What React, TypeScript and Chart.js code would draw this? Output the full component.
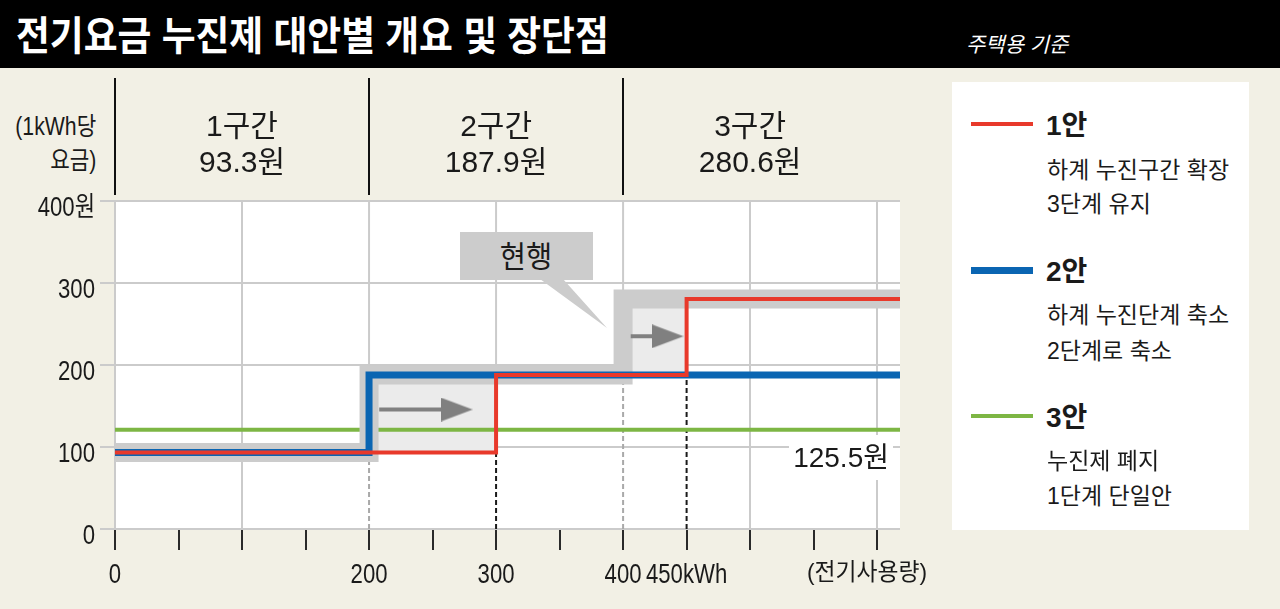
import React, { useEffect, useRef } from 'react';
import { Chart, registerables } from 'chart.js';

Chart.register(...registerables);

// ---------- data ----------
const stepRates = [93.3, 187.9, 280.6]; // 원 per kWh, 1~3구간
const currentBreaks = [0, 200, 400]; // 현행 구간 시작 (kWh)
const planOneBreaks = [0, 300, 450]; // 1안 구간 시작
const planTwoBreaks = [0, 200]; // 2안 구간 시작
const planTwoRates = [93.3, 187.9];
const planThreeRate = [121]; // 3안 단일 요금 (drawn level)
const planThreeLabel = '125.5원';
const usageMax = 618;
const rateMax = 400;
const zoneEdges = [0, 200, 400, 600];
const zoneLabels = ['1구간', '2구간', '3구간'];
const zoneRateLabels = ['93.3원', '187.9원', '280.6원'];
const xLabelValues = [0, 200, 300, 400, 450];
const xLabelTexts = ['0', '200', '300', '400', '450kWh'];
const yTickValues = [0, 100, 200, 300, 400];
const yTickLabels = ['0', '100', '200', '300', '400원'];
const stubValues = [200, 300, 400];
const arrowStarts = [208, 406];
const arrowHeads = [269, 435];
const arrowLevels = [145.7, 235];
const legendTitles = ['1안', '2안', '3안'];
const legendDescs = [
  ['하계 누진구간 확장', '3단계 유지'],
  ['하계 누진단계 축소', '2단계로 축소'],
  ['누진제 폐지', '1단계 단일안'],
];

// ---------- style ----------
const BG = '#f2f0e5';
const RED = '#e8392b';
const BLUE = '#0a65b2';
const GREEN = '#7db644';
const BAND = '#cccccc';
const FILL = '#ebebeb';
const ARROW = '#808080';
const GRID = '#cbcbcb';
const INK = '#1a1a1a';
const FONT = '"Liberation Sans", "Noto Sans CJK KR", sans-serif';

function stepPath(breaks: number[], rates: number[], end: number) {
  const pts: { x: number; y: number }[] = [];
  breaks.forEach((b, i) => {
    if (i > 0) pts.push({ x: b, y: rates[i - 1] });
    pts.push({ x: b, y: rates[i] });
  });
  pts.push({ x: end, y: rates[breaks.length - 1] });
  return pts;
}

function rateAt(breaks: number[], rates: number[], x: number) {
  let r = rates[0];
  breaks.forEach((b, i) => {
    if (x >= b) r = rates[i];
  });
  return r;
}

function Label(p: any) {
  const { x, y, size, text, align = 'left', bold = false, italic = false, color = INK, sx = 1 } = p;
  const lh = Math.round(size * 1.2);
  const style: any = {
    position: 'absolute',
    top: y - lh / 2,
    fontSize: size,
    lineHeight: lh + 'px',
    fontFamily: FONT,
    fontWeight: bold ? 700 : 400,
    fontStyle: italic ? 'italic' : 'normal',
    color,
    whiteSpace: 'nowrap',
  };
  if (align === 'left') {
    style.left = x;
    style.transform = `scaleX(${sx})`;
    style.transformOrigin = 'left center';
  } else if (align === 'right') {
    style.right = 1280 - x;
    style.transform = `scaleX(${sx})`;
    style.transformOrigin = 'right center';
  } else {
    style.left = x;
    style.transform = `translateX(-50%) scaleX(${sx})`;
    style.transformOrigin = 'center center';
  }
  return <div style={style}>{text}</div>;
}

function condensedText(ctx: any, text: string, x: number, y: number, align: string, sx: number) {
  ctx.save();
  ctx.translate(x, y);
  ctx.scale(sx, 1);
  ctx.textAlign = align;
  ctx.textBaseline = 'alphabetic';
  ctx.fillText(text, 0, 0);
  ctx.restore();
}

export default function App() {
  const ref = useRef<HTMLCanvasElement>(null);

  useEffect(() => {
    document.body.style.margin = '0';
    const canvas = ref.current!;

    const head = document.createElement('canvas');
    head.width = 32;
    head.height = 24;
    const hctx = head.getContext('2d')!;
    hctx.fillStyle = ARROW;
    hctx.beginPath();
    hctx.moveTo(0, 0);
    hctx.lineTo(32, 12);
    hctx.lineTo(0, 24);
    hctx.closePath();
    hctx.fill();

    const layers: any[] = [];
    const base = { pointRadius: 0, clip: 0, fill: false, tension: 0 };

    // grid stubs above the steps
    stubValues.forEach((v) => {
      const top = Math.max(rateAt(currentBreaks, stepRates, v), rateAt(planOneBreaks, stepRates, v));
      layers.push({ ...base, data: [{ x: v, y: top }, { x: v, y: rateMax }], borderColor: GRID, borderWidth: 2 });
    });
    // dashed drop lines
    currentBreaks.slice(1).forEach((b, i) => {
      layers.push({ ...base, data: [{ x: b, y: 0 }, { x: b, y: stepRates[i] }], borderColor: '#a9a9a9', borderWidth: 2, borderDash: [5, 3] });
    });
    planOneBreaks.slice(1).forEach((b, i) => {
      layers.push({ ...base, data: [{ x: b, y: 0 }, { x: b, y: stepRates[i] }], borderColor: '#1a1a1a', borderWidth: 2, borderDash: [5, 3] });
    });
    const fillIndex = layers.length;
    layers.push({ ...base, data: stepPath(currentBreaks, stepRates, usageMax), borderWidth: 0, borderColor: 'rgba(0,0,0,0)', backgroundColor: FILL, fill: { target: fillIndex + 4 } });
    layers.push({ ...base, label: '3안', data: [{ x: 0, y: planThreeRate[0] }, { x: usageMax, y: planThreeRate[0] }], borderColor: GREEN, borderWidth: 4 });
    layers.push({ ...base, label: '현행', data: stepPath(currentBreaks, stepRates, usageMax), borderColor: BAND, borderWidth: 19 });
    layers.push({ ...base, label: '2안', data: stepPath(planTwoBreaks, planTwoRates, usageMax), borderColor: BLUE, borderWidth: 7 });
    layers.push({ ...base, label: '1안', data: stepPath(planOneBreaks, stepRates, usageMax), borderColor: RED, borderWidth: 4 });
    arrowStarts.forEach((s, i) => {
      layers.push({
        ...base,
        data: [{ x: s, y: arrowLevels[i] }, { x: arrowHeads[i], y: arrowLevels[i] }],
        borderColor: ARROW,
        borderWidth: 4,
        pointRadius: [0, 12],
        pointStyle: ['circle', head],
      });
    });
    const n = layers.length;
    layers.forEach((d, i) => (d.order = n - i));

    const backdrop = {
      id: 'backdrop',
      beforeDraw(chart: any) {
        const { ctx, chartArea: a } = chart;
        ctx.save();
        ctx.fillStyle = '#ffffff';
        ctx.fillRect(a.left, a.top, a.right - a.left, a.bottom - a.top);
        ctx.restore();
      },
    };
    const header = {
      id: 'header',
      afterDraw(chart: any) {
        const { ctx } = chart;
        const xs = chart.scales.x;
        const ys = chart.scales.y;
        ctx.save();
        ctx.strokeStyle = '#111';
        ctx.lineWidth = 2;
        zoneEdges.slice(0, -1).forEach((b) => {
          const px = Math.round(xs.getPixelForValue(b));
          ctx.beginPath();
          ctx.moveTo(px, 78);
          ctx.lineTo(px, 195);
          ctx.stroke();
        });
        ctx.fillStyle = INK;
        ctx.textAlign = 'center';
        ctx.textBaseline = 'alphabetic';
        ctx.font = `30px ${FONT}`;
        zoneLabels.forEach((t, i) => {
          const cx = xs.getPixelForValue((zoneEdges[i] + zoneEdges[i + 1]) / 2);
          ctx.fillText(t, cx, 136);
          ctx.fillText(zoneRateLabels[i], cx, 172);
        });
        // axis labels (condensed face)
        ctx.font = `27px ${FONT}`;
        xLabelValues.forEach((v, i) => {
          condensedText(ctx, xLabelTexts[i], xs.getPixelForValue(v), xs.top + 54, 'center', 0.82);
        });
        yTickValues.forEach((v, i) => {
          condensedText(ctx, yTickLabels[i], 95, ys.getPixelForValue(v) + 15, 'right', 0.82);
        });
        ctx.restore();
      },
    };

    const chart = new Chart(canvas, {
      type: 'line',
      data: { datasets: layers },
      plugins: [backdrop, header],
      options: {
        animation: false,
        responsive: false,
        devicePixelRatio: 1,
        events: [],
        layout: { padding: { top: 201, right: 380, left: 0, bottom: 0 } },
        plugins: { legend: { display: false }, tooltip: { enabled: false } },
        scales: {
          x: {
            type: 'linear',
            min: 0,
            max: usageMax,
            bounds: 'data',
            border: { display: false },
            afterFit: (s: any) => {
              s.height = 80;
            },
            afterBuildTicks: (s: any) => {
              s.ticks = s.ticks.filter((t: any) => t.value % 50 === 0);
            },
            grid: {
              color: (c: any) => {
                const v = c.tick ? c.tick.value : -1;
                return v % 100 === 0 && !stubValues.includes(v) ? GRID : 'rgba(0,0,0,0)';
              },
              lineWidth: 2,
              tickColor: '#2a2a2a',
              tickWidth: 2,
              tickLength: 21,
            },
            ticks: {
              display: false,
              stepSize: 50,
              includeBounds: false,
              autoSkip: false,
              maxRotation: 0,
            },
          },
          y: {
            type: 'linear',
            min: 0,
            max: rateMax,
            border: { display: false },
            afterFit: (s: any) => {
              s.width = 115;
            },
            grid: { color: GRID, lineWidth: 2, tickLength: 15 },
            ticks: {
              display: false,
              stepSize: 100,
              autoSkip: false,
            },
          },
        },
      } as any,
    });
    return () => chart.destroy();
  }, []);

  const legendY = [126, 272, 418];
  const descY = [
    [170, 204],
    [315, 351],
    [461, 496],
  ];
  const lineColors = [RED, BLUE, GREEN];
  const lineWidths = [4, 7, 4];

  return (
    <div style={{ position: 'absolute', left: 0, top: 0, width: 1280, height: 609, background: BG, overflow: 'hidden' }}>
      <div style={{ position: 'absolute', left: 0, top: 0, width: 1280, height: 68, background: '#000' }} />
      <Label x={16} y={36} size={40} bold color="#fff" sx={0.92} text="전기요금 누진제 대안별 개요 및 장단점" />
      <Label x={966} y={44} size={21} italic color="#fff" text="주택용 기준" />
      <Label x={96} y={126} size={25} align="right" sx={0.85} text="(1kWh당" />
      <Label x={96} y={160} size={25} align="right" sx={0.85} text="요금)" />

      <canvas ref={ref} width={1280} height={609} style={{ position: 'absolute', left: 0, top: 0 }} />

      {/* 현행 callout */}
      <div style={{ position: 'absolute', left: 460, top: 232, width: 133, height: 48, background: BAND }} />
      <svg width={1280} height={609} style={{ position: 'absolute', left: 0, top: 0, pointerEvents: 'none' }}>
        <polygon points="540,279 563,279 607,328" fill={BAND} />
      </svg>
      <Label x={526} y={257} size={30} align="center" sx={0.95} text="현행" />

      {/* 3안 value */}
      <div style={{ position: 'absolute', left: 789, top: 435, width: 104, height: 45, background: '#fff' }} />
      <Label x={889} y={458} size={28} align="right" text={planThreeLabel} />

      <Label x={807} y={571} size={24} sx={0.95} text="(전기사용량)" />

      {/* legend */}
      <div style={{ position: 'absolute', left: 952, top: 82, width: 297, height: 448, background: '#fff' }} />
      {legendTitles.map((t, i) => (
        <React.Fragment key={t}>
          <div
            style={{
              position: 'absolute',
              left: 971,
              top: legendY[i] - 2 - lineWidths[i] / 2,
              width: 62,
              height: lineWidths[i],
              background: lineColors[i],
            }}
          />
          <Label x={1046} y={legendY[i]} size={28} bold text={t} />
          <Label x={1047} y={descY[i][0]} size={23} text={legendDescs[i][0]} />
          <Label x={1047} y={descY[i][1]} size={23} text={legendDescs[i][1]} />
        </React.Fragment>
      ))}
    </div>
  );
}
